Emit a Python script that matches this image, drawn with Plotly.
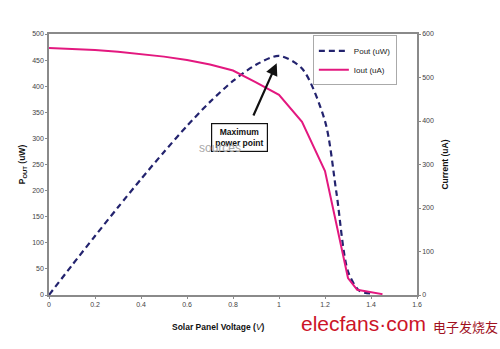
import plotly.graph_objects as go

# Solar panel output: voltage sweep (V), output power (uW) and output current (uA)
volt_p = [0.0, 0.1, 0.2, 0.3, 0.4, 0.5, 0.6, 0.7, 0.8, 0.9, 1.0, 1.1, 1.2, 1.25, 1.3, 1.35, 1.4]
pout_uw = [0, 57, 113, 168, 222, 274, 324, 370, 410, 441, 458, 434, 333, 195, 45, 8, 3]

volt_i = [0.0, 0.1, 0.2, 0.3, 0.4, 0.5, 0.6, 0.7, 0.8, 0.9, 1.0, 1.1, 1.2, 1.3, 1.34, 1.45]
iout_ua = [568, 566, 563, 559, 554, 548, 540, 530, 516, 489, 460, 398, 285, 39, 12, 2]

x_ticks = [0, 0.2, 0.4, 0.6, 0.8, 1.0, 1.2, 1.4, 1.6]
x_tick_text = ["0", "0.2", "0.4", "0.6", "0.8", "1", "1.2", "1.4", "1.6"]

NAVY = "#23236e"
PINK = "#e3187f"
AXIS = "#8a8a8a"
FONT = "Liberation Sans, Arial, sans-serif"

fig = go.Figure()
fig.add_trace(go.Scatter(
    x=volt_p, y=pout_uw, name="Pout (uW)", mode="lines",
    line=dict(color=NAVY, width=2.2, dash="6px,4px", shape="spline", smoothing=0.8),
    yaxis="y",
))
fig.add_trace(go.Scatter(
    x=volt_i, y=iout_ua, name="Iout (uA)", mode="lines",
    line=dict(color=PINK, width=2),
    yaxis="y2",
))

tick_font = dict(family=FONT, size=7, color="#444444")
title_font = dict(family=FONT, size=8.5, color="#111111")

fig.update_layout(
    template="none",
    width=500, height=349,
    margin=dict(l=49, r=83, t=34, b=54),
    paper_bgcolor="white", plot_bgcolor="white",
    font=dict(family=FONT, color="#333333"),
    xaxis=dict(
        range=[0, 1.6], tickvals=x_ticks, ticktext=x_tick_text,
        showgrid=False, zeroline=False, showline=True, linecolor=AXIS, linewidth=1.5,
        mirror=True, ticks="outside", ticklen=2, tickcolor=AXIS, tickfont=tick_font,
    ),
    yaxis=dict(
        range=[0, 500], dtick=50, showgrid=False, zeroline=False,
        showline=True, linecolor=AXIS, linewidth=1.5, ticks="outside", ticklen=2,
        tickcolor=AXIS, tickfont=tick_font,
        title=dict(text="<b>P<sub>OUT</sub> (uW)</b>", font=title_font, standoff=5),
    ),
    yaxis2=dict(
        range=[0, 600], dtick=100, overlaying="y", side="right",
        showgrid=False, zeroline=False, showline=True, linecolor=AXIS, linewidth=1.5,
        ticks="outside", ticklen=2, tickcolor=AXIS, tickfont=tick_font,
        title=dict(text="<b>Current (uA)</b>", font=title_font, standoff=9),
    ),
    legend=dict(
        x=0.717, y=0.995, xanchor="left", yanchor="top",
        bgcolor="white", bordercolor="#aaaaaa", borderwidth=1,
        font=dict(family=FONT, size=8, color="#222222"),
        itemwidth=30, tracegroupgap=0,
    ),
    showlegend=True,
)

# Arrow pointing to the maximum power point
fig.add_annotation(
    x=0.99, y=444, ax=0.886, ay=341, xref="x", yref="y", axref="x", ayref="y",
    text="", showarrow=True, arrowhead=2, arrowsize=1.1, arrowwidth=2.2, arrowcolor="#111111",
)
fig.add_annotation(
    x=0.83, y=301, xref="x", yref="y",
    text="<b>Maximum<br>power point</b>", showarrow=False,
    font=dict(family=FONT, size=8.5, color="#111111"),
    bgcolor="white", bordercolor="#111111", borderwidth=1.2, borderpad=3,
)
fig.add_annotation(
    x=0.745, y=282, xref="x", yref="y", text="sources", showarrow=False,
    font=dict(family=FONT, size=12, color="#a8a8a8"),
)

# Voltage axis title and site logo text along the bottom
fig.add_annotation(
    x=(218 - 49) / 368, y=(295 - 320) / 261, xref="paper", yref="paper",
    xanchor="center", yanchor="top",
    text="<b>Solar Panel Voltage (</b><i>V</i><b>)</b>", showarrow=False,
    font=dict(family=FONT, size=8.5, color="#111111"),
)
fig.add_annotation(
    x=(299 - 49) / 368, y=(295 - 310) / 261, xref="paper", yref="paper", showarrow=False,
    text="elecfans·com", xanchor="left", yanchor="top",
    font=dict(family=FONT, size=21, color="#cc1428"),
)
fig.add_annotation(
    x=(431 - 49) / 368, y=(295 - 315) / 261, xref="paper", yref="paper", showarrow=False,
    text="电子发烧友", xanchor="left", yanchor="top",
    font=dict(family="Noto Sans CJK SC, sans-serif", size=13, color="#a0101e"),
)

fig.write_html("out.html")
